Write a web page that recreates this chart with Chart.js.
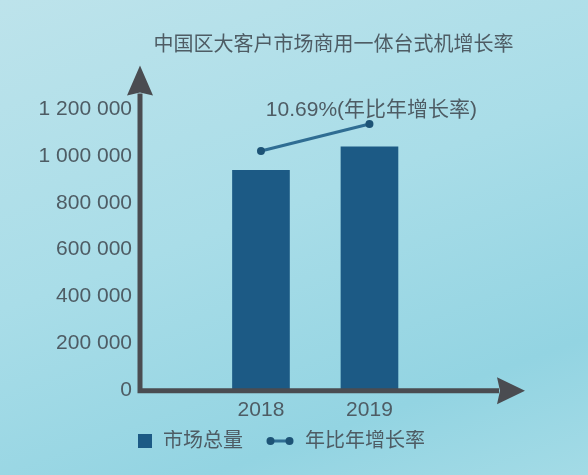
<!DOCTYPE html>
<html>
<head>
<meta charset="utf-8">
<script src="https://cdn.jsdelivr.net/npm/chart.js@4.4.1/dist/chart.umd.min.js"></script>
<style>
  html, body { margin: 0; padding: 0; }
  body {
    width: 588px; height: 475px; overflow: hidden;
    background: linear-gradient(160deg, #bde3eb 0%, #a9dde8 45%, #93d4e2 80%, #a3dbe6 100%);
  }
  #wrap { position: relative; width: 588px; height: 475px; }
</style>
</head>
<body>
<div id="wrap"><canvas id="myChart"></canvas></div>
<script>
const categories = ['2018', '2019'];
const marketTotal = [940000, 1040000];
const growthLine = [1022000, 1138000];
const growthText = '10.69%(年比年增长率)';
const yTicks = [0, 200000, 400000, 600000, 800000, 1000000, 1200000];

const txtColor = '#4e5c64';
const barColor = '#1c5a85';
const axisColor = '#4a4c51';
const fontFam = "'Liberation Sans', 'Noto Sans CJK SC', sans-serif";
// x range around the two years, so the bars land where the picture has them
const xMin = 2016.885, xMax = 2020.452;

// little images for the legend markers (51 wide, marker on the right)
function legendSquare() {
	const c = document.createElement('canvas');
	c.width = 51; c.height = 14;
	const g = c.getContext('2d');
	g.fillStyle = barColor;
	g.fillRect(36, 0, 14, 14);
	return c;
}
function legendLine() {
	const c = document.createElement('canvas');
	c.width = 51; c.height = 10;
	const g = c.getContext('2d');
	g.strokeStyle = '#2f6d93';
	g.lineWidth = 3;
	g.beginPath(); g.moveTo(26, 5); g.lineTo(46, 5); g.stroke();
	g.fillStyle = '#1d5376';
	g.beginPath(); g.arc(26.5, 5, 4, 0, Math.PI * 2); g.fill();
	g.beginPath(); g.arc(45.5, 5, 4, 0, Math.PI * 2); g.fill();
	return c;
}

const arrowAxes = {
	id: 'arrowAxes',
	afterDatasetsDraw(chart) {
		const {ctx, chartArea, scales} = chart;
		const x0 = chartArea.left;
		const y0 = scales.y.getPixelForValue(0) + 1;
		const topTip = chartArea.top - 44;
		const rightTip = chartArea.right - 2;
		ctx.save();
		ctx.strokeStyle = axisColor;
		ctx.fillStyle = axisColor;
		ctx.lineWidth = 5;
		ctx.beginPath();
		ctx.moveTo(x0, y0 + 2.5);
		ctx.lineTo(x0, topTip + 28);
		ctx.moveTo(x0 - 2.5, y0);
		ctx.lineTo(rightTip - 26, y0);
		ctx.stroke();
		ctx.beginPath();
		ctx.moveTo(x0, topTip);
		ctx.lineTo(x0 + 13, topTip + 30);
		ctx.lineTo(x0, topTip + 27);
		ctx.lineTo(x0 - 13, topTip + 30);
		ctx.closePath();
		ctx.fill();
		ctx.beginPath();
		ctx.moveTo(rightTip, y0);
		ctx.lineTo(rightTip - 28, y0 - 13.5);
		ctx.lineTo(rightTip - 25, y0);
		ctx.lineTo(rightTip - 28, y0 + 13.5);
		ctx.closePath();
		ctx.fill();

		// growth label above the last point of the line
		const meta = chart.getDatasetMeta(1);
		const p = meta.data[meta.data.length - 1];
		ctx.font = '21px ' + fontFam;
		ctx.fillStyle = txtColor;
		ctx.textAlign = 'center';
		ctx.textBaseline = 'middle';
		ctx.fillText(growthText, p.x + 2, p.y - 14);
		ctx.restore();
	}
};

let ctx = document.getElementById('myChart');

let chart = new Chart(ctx, {
	data: {
		datasets: [{
			type: 'bar',
			label: '市场总量',
			data: categories.map((c, i) => ({x: Number(c), y: marketTotal[i]})),
			backgroundColor: barColor,
			barThickness: 57,
			order: 2
		}, {
			type: 'line',
			label: '年比年增长率',
			data: categories.map((c, i) => ({x: Number(c), y: growthLine[i]})),
			borderColor: '#2f6d93',
			borderWidth: 3,
			pointRadius: 4,
			pointBackgroundColor: '#1d5376',
			pointBorderWidth: 0,
			order: 1
		}]
	},
	plugins: [arrowAxes],
	options: {
		responsive: true,
		maintainAspectRatio: false,
		animation: false,
		layout: {
			padding: {left: 0, right: 61, top: 0, bottom: 14}
		},
		scales: {
			x: {
				type: 'linear',
				min: xMin,
				max: xMax,
				offset: false,
				bounds: 'data',
				grid: {display: false, drawTicks: false},
				border: {display: false},
				afterBuildTicks: (s) => {
					s.min = xMin;
					s.max = xMax;
					s.ticks = categories.map(c => ({value: Number(c)}));
				},
				ticks: {
					padding: 7.5,
					color: txtColor,
					font: {family: fontFam, size: 21},
					callback: (v) => String(v)
				}
			},
			y: {
				min: 0,
				max: 1200000,
				grid: {display: false, drawTicks: false},
				border: {display: false},
				afterBuildTicks: (s) => { s.ticks = yTicks.map(v => ({value: v})); },
				afterFit: (s) => { s.width = 140; },
				ticks: {
					padding: 8,
					color: txtColor,
					font: {family: fontFam, size: 21},
					callback: (v) => String(v).replace(/\B(?=(\d{3})+(?!\d))/g, ' ')
				}
			}
		},
		plugins: {
			title: {
				display: true,
				fullSize: false,
				text: '中国区大客户市场商用一体台式机增长率',
				color: txtColor,
				font: {family: fontFam, size: 20, weight: 'normal'},
				padding: {top: 33, bottom: 52.5}
			},
			legend: {
				position: 'bottom',
				labels: {
					usePointStyle: true,
					pointStyleWidth: 51,
					padding: 1,
					color: txtColor,
					font: {family: fontFam, size: 20},
					generateLabels: () => [
						{text: '市场总量', pointStyle: legendSquare(), fontColor: txtColor, datasetIndex: 0, lineWidth: 0},
						{text: '年比年增长率', pointStyle: legendLine(), fontColor: txtColor, datasetIndex: 1, lineWidth: 0}
					]
				}
			},
			tooltip: {enabled: false}
		}
	}
});
</script>
</body>
</html>
